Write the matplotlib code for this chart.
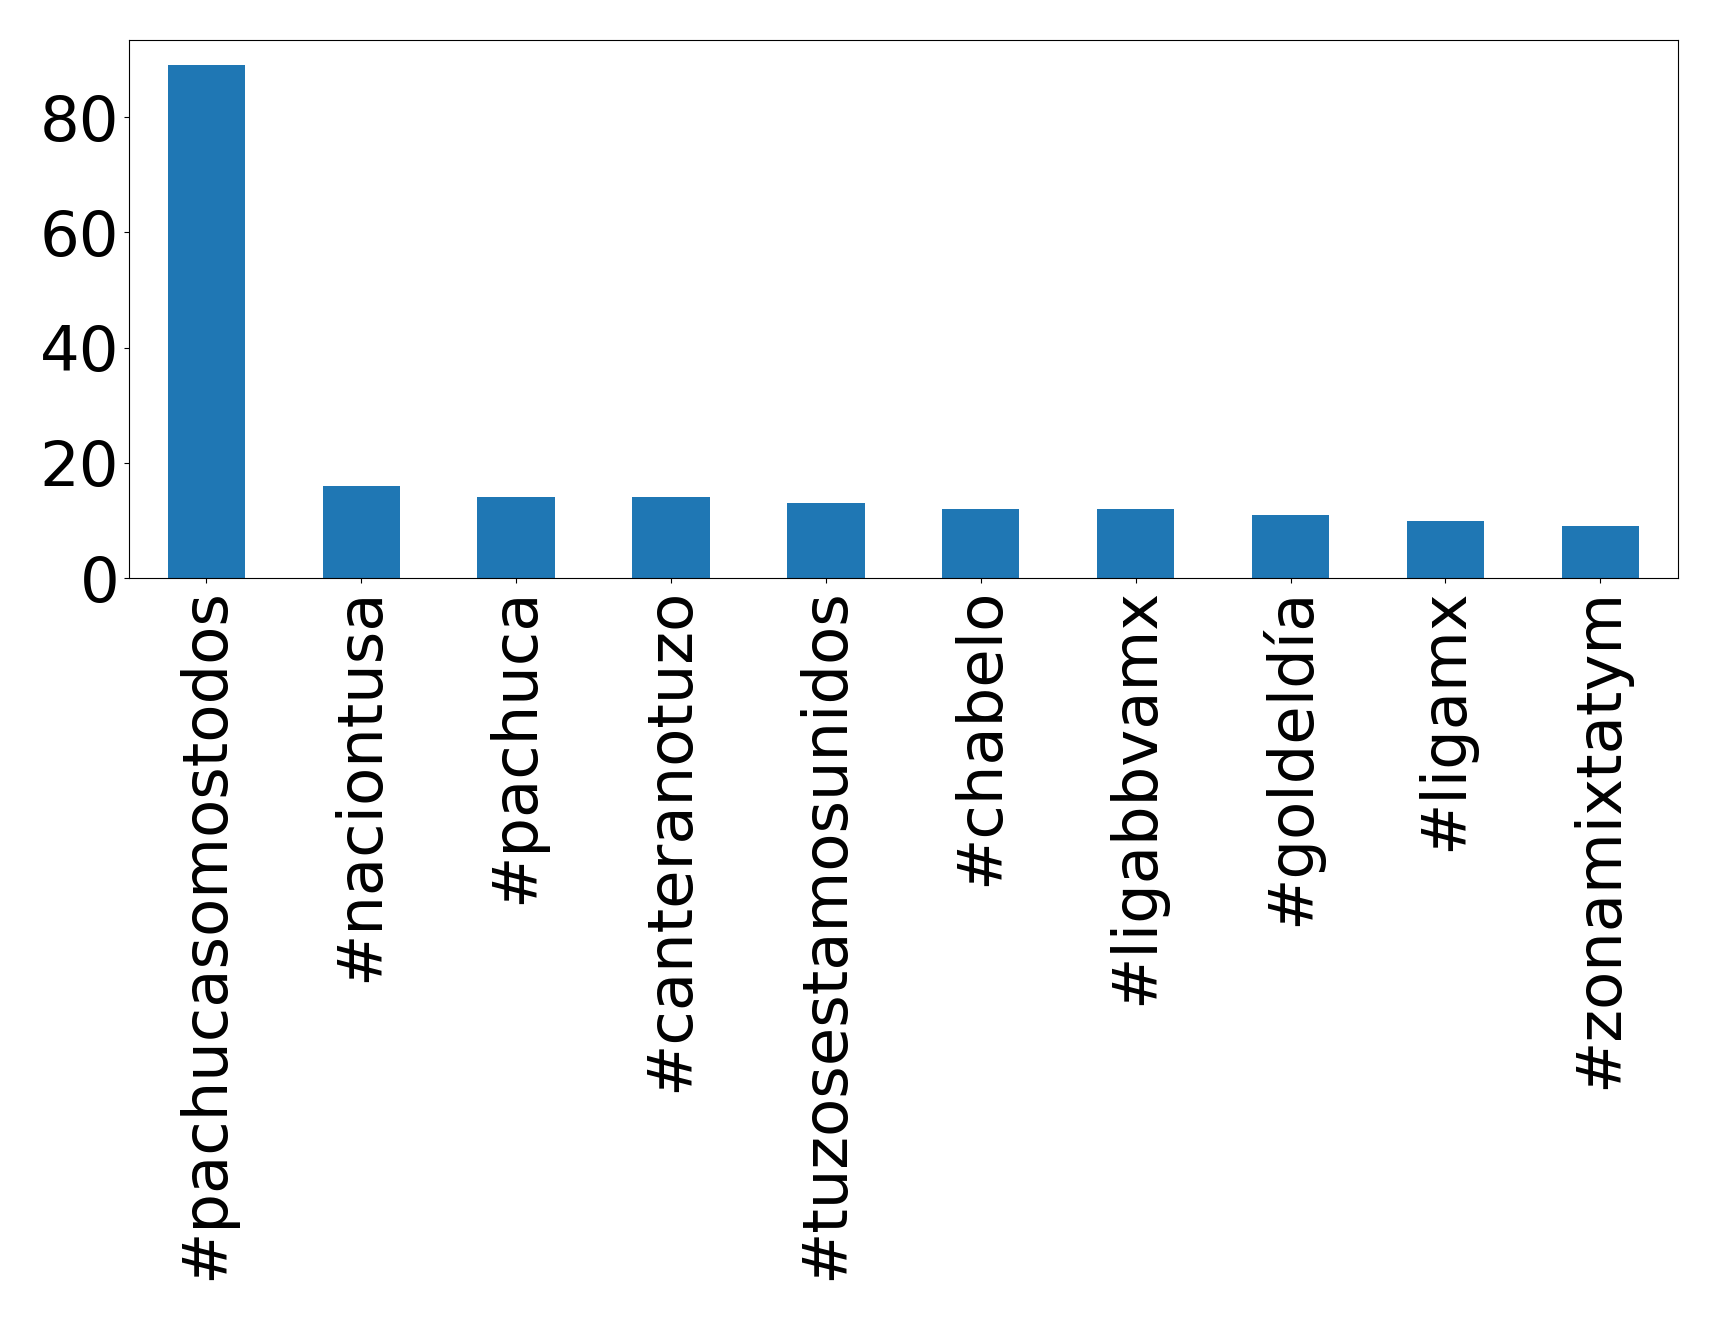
import matplotlib
matplotlib.use("Agg")
import matplotlib.pyplot as plt
import pandas as pd

hashtags = ["#pachucasomostodos", "#naciontusa", "#pachuca", "#canteranotuzo",
            "#tuzosestamosunidos", "#chabelo", "#ligabbvamx", "#goldeldía",
            "#ligamx", "#zonamixtatym"]
counts = [89, 16, 14, 14, 13, 12, 12, 11, 10, 9]

s = pd.Series(counts, index=hashtags)

fig = plt.figure(figsize=(17.19, 13.2), dpi=100)
ax = fig.add_axes([0.075, 0.562, 0.901, 0.408])
s.plot(kind="bar", ax=ax, color="#1f77b4")
ax.tick_params(axis="both", labelsize=45)
ax.set_yticks([0, 20, 40, 60, 80])
fig.savefig("out.png", dpi=100)
